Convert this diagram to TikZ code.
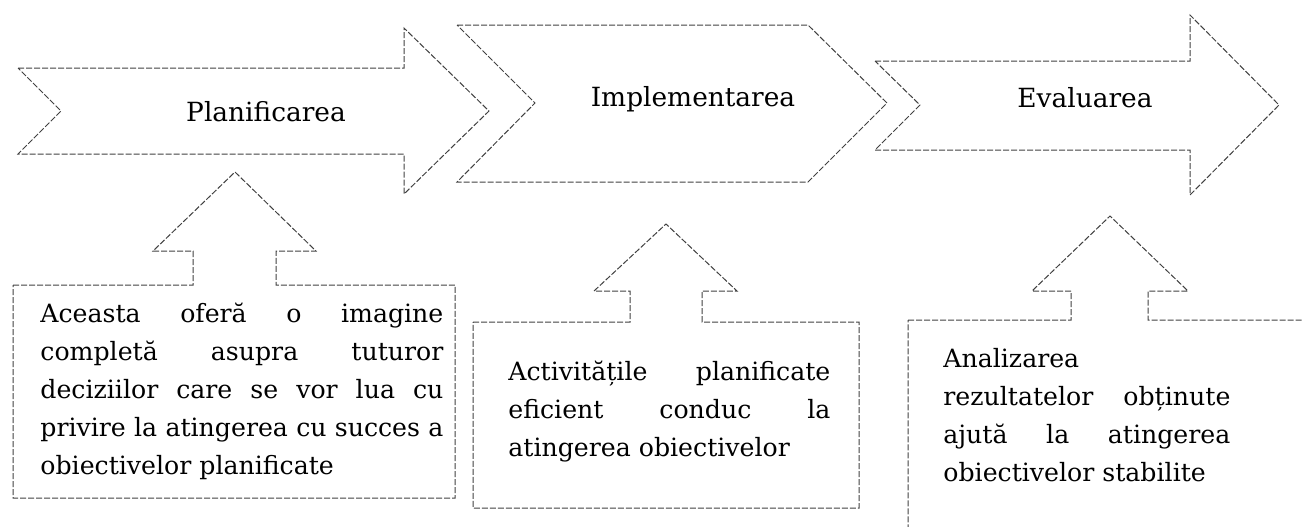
\documentclass[tikz,border=0pt]{standalone}
\usepackage{fontspec}
\setmainfont{DejaVu Serif}
\usepackage{tikz}
\usetikzlibrary{positioning}
\newcommand{\justline}[2]{\makebox[#1][s]{#2}}
\tikzset{
    outline/.style={
        draw=black!75,
        line width=0.5pt,
        dash pattern=on 3pt off 1pt,
        line join=miter
    },
    title/.style={
        anchor=base,
        inner sep=0pt,
        font=\fontsize{13.2}{16}\selectfont
    },
    bodytext/.style={
        anchor=west,
        inner sep=0pt,
        align=left,
        font=\fontsize{12.6}{19}\selectfont
    }
}
\begin{document}
\begin{tikzpicture}[x=0.5pt,y=-0.5pt]
\useasboundingbox (0,0) rectangle (1302,526);
\clip (0,0) rectangle (1302,526);

\draw [outline] (18,68) -- (404,68) -- (404,28) -- (489,111) -- (404,194) -- (404,154) -- (18,154) -- (61,111) -- cycle;
\draw [outline] (457,25) -- (808,25) -- (887,103) -- (808,182) -- (457,182) -- (535,103) -- cycle;
\draw [outline] (875,61) -- (1190,61) -- (1190,15) -- (1279,105) -- (1190,195) -- (1190,150) -- (875,150) -- (920,105) -- cycle;

\node [title] (plan) at (266,121) {Planificarea};
\node [title] (impl) at (693,106) {Implementarea};
\node [title] (eval) at (1085,107) {Evaluarea};

\draw [outline] (13,285) -- (193,285) -- (193,251) -- (153,251) -- (235,172) -- (316,251) -- (276,251) -- (276,285) -- (455,285) -- (455,498) -- (13,498) -- cycle;
\draw [outline] (473,322) -- (630,322) -- (630,291) -- (594,291) -- (666,224) -- (737,291) -- (702,291) -- (702,322) -- (859,322) -- (859,508) -- (473,508) -- cycle;
\draw [outline] (908,320) -- (1071,320) -- (1071,291) -- (1032,291) -- (1110,216) -- (1188,291) -- (1148,291) -- (1148,320) -- (1330,320) -- (1330,545) -- (908,545) -- cycle;

\node [bodytext] (plantext) at (40,391) {\justline{201.5pt}{Aceasta oferă o imagine}\\
    \justline{201.5pt}{completă asupra tuturor}\\
    \justline{201.5pt}{deciziilor care se vor lua cu}\\
    \justline{201.5pt}{privire la atingerea cu succes a}\\
    obiectivelor planificate};
\node [bodytext] (impltext) at (508,412) {\justline{161pt}{Activitățile planificate}\\
    \justline{161pt}{eficient conduc la}\\
    atingerea obiectivelor};
\node [bodytext] (evaltext) at (943,415) {Analizarea\\
    \justline{143.5pt}{rezultatelor obținute}\\
    \justline{143.5pt}{ajută la atingerea}\\
    obiectivelor stabilite};

\end{tikzpicture}
\end{document}
